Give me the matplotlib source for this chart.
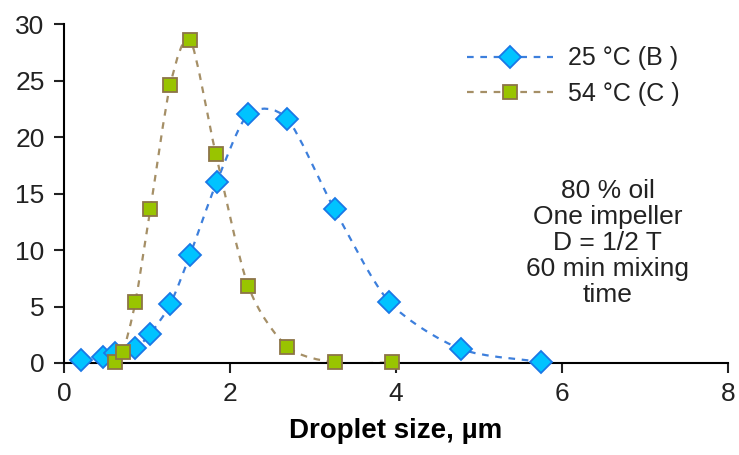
import numpy as np
import matplotlib
matplotlib.use("Agg")
import matplotlib.pyplot as plt
from matplotlib.path import Path
from matplotlib.patches import PathPatch
from matplotlib.lines import Line2D

plt.rcParams["font.family"] = ["Liberation Sans", "DejaVu Sans"]

# droplet size (um) and frequency (%)
size_b = [0.20, 0.47, 0.61, 0.86, 1.04, 1.28, 1.52, 1.84, 2.22, 2.69, 3.26, 3.92, 4.78, 5.75]
freq_b = [0.27, 0.5, 0.85, 1.3, 2.6, 5.2, 9.6, 16.0, 22.0, 21.6, 13.6, 5.4, 1.24, 0.1]
size_c = [0.62, 0.71, 0.86, 1.04, 1.28, 1.52, 1.83, 2.22, 2.69, 3.26, 3.95]
freq_c = [0.05, 0.95, 5.4, 13.6, 24.6, 28.6, 18.5, 6.8, 1.45, 0.05, 0.05]

label_b = "25 °C (B )"
label_c = "54 °C (C )"
note = "80 % oil\nOne impeller\nD = 1/2 T\n60 min mixing\ntime"

blue_line = "#3d7fdc"
blue_face = "#00c3ff"
blue_edge = "#1a78e6"
brown_line = "#a58f66"
green_face = "#99c400"
brown_edge = "#8c7448"


def smooth_path(xs, ys, k=7.5):
    # excel style smoothed line, bezier segments through the points
    p = np.column_stack([xs, ys])
    verts = [p[0]]
    codes = [Path.MOVETO]
    n = len(p)
    for i in range(n - 1):
        p0 = p[i - 1] if i > 0 else p[i]
        p3 = p[i + 2] if i + 2 < n else p[i + 1]
        c1 = p[i] + (p[i + 1] - p0) / k
        c2 = p[i + 1] - (p3 - p[i]) / k
        verts += [c1, c2, p[i + 1]]
        codes += [Path.CURVE4] * 3
    return Path(verts, codes)


fig = plt.figure(figsize=(7.39, 4.55), dpi=100)
ax = fig.add_axes([0.0866, 0.2022, 0.8984, 0.745])

for xs, ys, col in [(size_b, freq_b, blue_line), (size_c, freq_c, brown_line)]:
    ax.add_patch(PathPatch(smooth_path(xs, ys), facecolor="none", edgecolor=col,
                           lw=1.6, linestyle=(0, (3, 3)), zorder=2))

ax.plot(size_b, freq_b, linestyle="none", marker="D", ms=11.5, mfc=blue_face,
        mec=blue_edge, mew=1.3, zorder=3, clip_on=False)
ax.plot(size_c, freq_c, linestyle="none", marker="s", ms=10, mfc=green_face,
        mec=brown_edge, mew=1.3, zorder=4, clip_on=False)

ax.set_xlim(0, 8)
ax.set_ylim(0, 30)
ax.set_xticks([0, 2, 4, 6, 8])
ax.set_yticks([0, 5, 10, 15, 20, 25, 30])
ax.spines["top"].set_visible(False)
ax.spines["right"].set_visible(False)
ax.spines["left"].set_linewidth(1.5)
ax.spines["bottom"].set_linewidth(1.5)
ax.tick_params(direction="out", length=7, width=1.5, labelsize=19, pad=7, colors="#222222")
ax.set_xlabel("Droplet size, µm", fontsize=20, fontweight="bold", labelpad=8)

ax.text(6.55, 10.6, note, ha="center", va="center", fontsize=19, linespacing=1.1, color="#222222")

handles = [
    Line2D([], [], color=blue_line, lw=1.6, linestyle=(0, (3, 3)), marker="D", ms=11.5,
           mfc=blue_face, mec=blue_edge, mew=1.3),
    Line2D([], [], color=brown_line, lw=1.6, linestyle=(0, (3, 3)), marker="s", ms=10,
           mfc=green_face, mec=brown_edge, mew=1.3),
]
fig.legend(handles, [label_b, label_c], loc="upper left", bbox_to_anchor=(0.632, 0.898),
           frameon=False, fontsize=18, handlelength=3.45, handletextpad=0.6,
           labelspacing=0.45, borderpad=0, borderaxespad=0, labelcolor="#222222")

fig.savefig("out.png", dpi=100)
